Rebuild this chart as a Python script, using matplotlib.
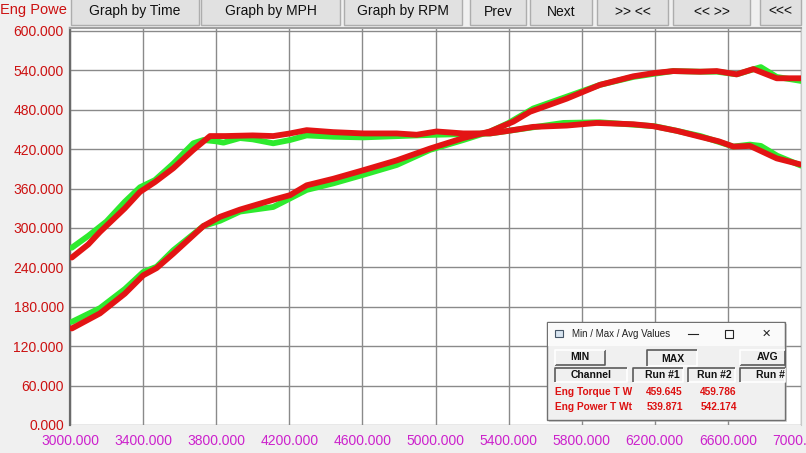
import matplotlib
matplotlib.use('Agg')
import matplotlib.pyplot as plt
from matplotlib.patches import Rectangle

plt.rcParams['font.family'] = ['Liberation Sans', 'DejaVu Sans']

# torque curves (run 1 green, run 2 red)
torque1_rpm = [3010, 3100, 3200, 3300, 3383, 3465, 3565, 3675, 3730, 3800, 3840, 3930, 4000,
               4112, 4204, 4295, 4440, 4605, 4800, 5000, 5150, 5300, 5500, 5700, 5900, 6100,
               6200, 6320, 6450, 6630, 6720, 6780, 6870, 7000]
torque1 = [270, 288, 310, 340, 362, 373, 398, 429, 434, 432, 430, 437, 435,
           429, 434, 441, 439, 438, 440, 442, 443, 444, 452, 460, 461, 457,
           455, 448, 440, 424, 427, 425, 410, 395]

torque2_rpm = [3010, 3100, 3164, 3300, 3383, 3465, 3565, 3675, 3766, 3850, 4000, 4112, 4204,
               4295, 4440, 4605, 4788, 4897, 5006, 5152, 5298, 5400, 5535, 5718, 5882, 6082,
               6192, 6320, 6447, 6550, 6630, 6721, 6867, 6994]
torque2 = [255, 275, 294, 330, 355, 370, 391, 419, 440, 440, 441, 440, 444,
           449, 446, 444, 444, 442, 447, 444, 444, 448, 454, 456, 460, 458,
           455, 448, 439, 432, 424, 425, 406, 397]

# power curves
power1_rpm = [3010, 3164, 3300, 3401, 3474, 3565, 3730, 3821, 3930, 4112, 4204, 4295, 4441,
              4605, 4788, 4970, 5152, 5300, 5400, 5535, 5718, 5900, 6082, 6200, 6300, 6450,
              6540, 6648, 6780, 6867, 7000]
power1 = [157, 178, 207, 233, 241, 266, 303, 311, 325, 332, 345, 358, 368,
          381, 396, 419, 434, 447, 460, 482, 500, 518, 530, 535, 539, 538,
          538, 534, 545, 530, 524]

power2_rpm = [3010, 3164, 3300, 3401, 3474, 3565, 3730, 3821, 3930, 4112, 4204, 4295, 4441,
              4605, 4788, 4970, 5152, 5298, 5426, 5517, 5718, 5900, 6082, 6197, 6301, 6447,
              6539, 6648, 6739, 6867, 7000]
power2 = [147, 170, 200, 228, 239, 261, 303, 317, 328, 343, 350, 365, 375,
          388, 403, 421, 437, 447, 462, 477, 497, 518, 531, 536, 539, 538,
          539, 534, 542, 528, 528]

x_ticks = list(range(3000, 7001, 400))
y_ticks = list(range(0, 601, 60))

buttons = ['Graph by Time', 'Graph by MPH', 'Graph by RPM', 'Prev', 'Next', '>> <<', '<< >>', '<<<']
channels = ['Eng Torque T W', 'Eng Power T Wt']
run1_max = ['459.645', '539.871']
run2_max = ['459.786', '542.174']

GREEN = '#2EEA2E'
RED = '#E31414'

W, H = 806, 453
fig = plt.figure(figsize=(W / 100, H / 100), dpi=100, facecolor='#F0F0F0')

# main chart
top_px, bot_px, left_px, right_px = 28, 425, 70, 801
ax = fig.add_axes([left_px / W, 1 - bot_px / H, (right_px - left_px) / W, (bot_px - top_px) / H])
ax.set_facecolor('white')
ax.plot(torque1_rpm, torque1, color=GREEN, lw=4.2, solid_capstyle='round', zorder=3)
ax.plot(power1_rpm, power1, color=GREEN, lw=4.2, solid_capstyle='round', zorder=3)
ax.plot(torque2_rpm, torque2, color=RED, lw=4.2, solid_capstyle='round', zorder=4)
ax.plot(power2_rpm, power2, color=RED, lw=4.2, solid_capstyle='round', zorder=4)
ax.set_xlim(3000, 7000)
ax.set_ylim(0, 600 * (bot_px - top_px) / 394)
ax.set_xticks(x_ticks)
ax.set_yticks(y_ticks)
ax.set_xticklabels([f'{v:.3f}' for v in x_ticks], color='#CC22CC', fontsize=10)
ax.set_yticklabels([f'{v:.3f}' for v in y_ticks], color='#CC1111', fontsize=10)
ax.tick_params(length=0, pad=4.5)
ax.tick_params(axis='x', pad=6.5)
ax.grid(True, color='#8A8A8A', lw=1)
ax.set_axisbelow(True)
ax.spines['left'].set_color('#6A6A6A')
ax.spines['left'].set_linewidth(1.6)
ax.spines['top'].set_color('#A0A0A0')
ax.spines['top'].set_linewidth(1.5)
ax.spines['right'].set_color('#C8C8C8')
ax.spines['bottom'].set_visible(False)

# overlay in pixel coordinates for the window widgets
ov = fig.add_axes([0, 0, 1, 1], zorder=5)
ov.set_xlim(0, W)
ov.set_ylim(H, 0)
ov.axis('off')
ov.patch.set_alpha(0)

ov.text(0, 10, 'Eng Powe', color='#CC1111', fontsize=10.5, va='center', ha='left')

btn_x = [(71, 199), (201, 340), (344, 462), (470, 526), (530, 592), (597, 668), (673, 750), (760, 801)]
for label, (x0, x1) in zip(buttons, btn_x):
    ov.add_patch(Rectangle((x0, -3), x1 - x0, 28, facecolor='#E1E1E1', edgecolor='#ADADAD', lw=1))
    ov.text((x0 + x1) / 2, 11.5, label, fontsize=10, ha='center', va='center', color='#111111')

# min/max dialog
dx0, dy0, dx1, dy1 = 547, 322, 785, 420
ov.add_patch(Rectangle((dx0 + 2, dy0 + 2), dx1 - dx0, dy1 - dy0, facecolor='#B0B0B0', edgecolor='none', alpha=0.5))
ov.add_patch(Rectangle((dx0, dy0), dx1 - dx0, dy1 - dy0, facecolor='#F0F0F0', edgecolor='#707070', lw=1))
ov.add_patch(Rectangle((dx0 + 1, dy0 + 1), dx1 - dx0 - 2, 23, facecolor='#FAFAFA', edgecolor='none'))
ov.add_patch(Rectangle((555, 330), 8, 7, facecolor='#D8E4F0', edgecolor='#445566', lw=0.8))
ov.text(572, 334, 'Min / Max / Avg Values', fontsize=7, va='center', ha='left', color='#222222')
ov.plot([688, 698], [334, 334], color='#222222', lw=0.8)
ov.add_patch(Rectangle((725, 330), 8, 8, facecolor='none', edgecolor='#222222', lw=0.8))
ov.text(766, 334, '✕', fontsize=8, va='center', ha='center', color='#222222', family='DejaVu Sans')


def bevel(x0, y0, x1, y1, sunken=False):
    ov.add_patch(Rectangle((x0, y0), x1 - x0, y1 - y0, facecolor='#F0F0F0', edgecolor='none'))
    dark, light = ('#5A5A5A', '#FFFFFF') if not sunken else ('#FFFFFF', '#5A5A5A')
    ov.plot([x0, x1, x1], [y1, y1, y0], color=dark, lw=1.2, solid_capstyle='butt')
    ov.plot([x0, x0, x1], [y1, y0, y0], color=light, lw=1.2, solid_capstyle='butt')


bevel(555, 350, 605, 365)
ov.text(580, 357.5, 'MIN', fontsize=7.5, weight='bold', ha='center', va='center', color='#111111')
bevel(647, 350, 697, 366, sunken=True)
ov.text(673, 358.5, 'MAX', fontsize=7.5, weight='bold', ha='center', va='center', color='#111111')
bevel(740, 350, 785, 365)
ov.text(757, 357.5, 'AVG', fontsize=7.5, weight='bold', ha='left', va='center', color='#111111')

headers = [(555, 627, 'Channel', 'center'), (633, 683, 'Run #1', 'right'), (688, 735, 'Run #2', 'right'),
           (740, 785, 'Run #', 'left')]
for x0, x1, label, align in headers:
    bevel(x0, 368, x1, 382, sunken=True)
    tx = {'center': (x0 + x1) / 2, 'right': x1 - 3, 'left': x0 + 16}[align]
    ov.text(tx, 375.5, label, fontsize=7.5, weight='bold', ha=align, va='center', color='#111111')

for i, name in enumerate(channels):
    y = 392 + i * 15
    ov.text(555, y, name, fontsize=7.3, weight='bold', ha='left', va='center', color='#DD1111')
    ov.text(683, y, run1_max[i], fontsize=7.3, weight='bold', ha='right', va='center', color='#DD1111')
    ov.text(737, y, run2_max[i], fontsize=7.3, weight='bold', ha='right', va='center', color='#DD1111')

fig.savefig('out.png', dpi=100, facecolor=fig.get_facecolor())
